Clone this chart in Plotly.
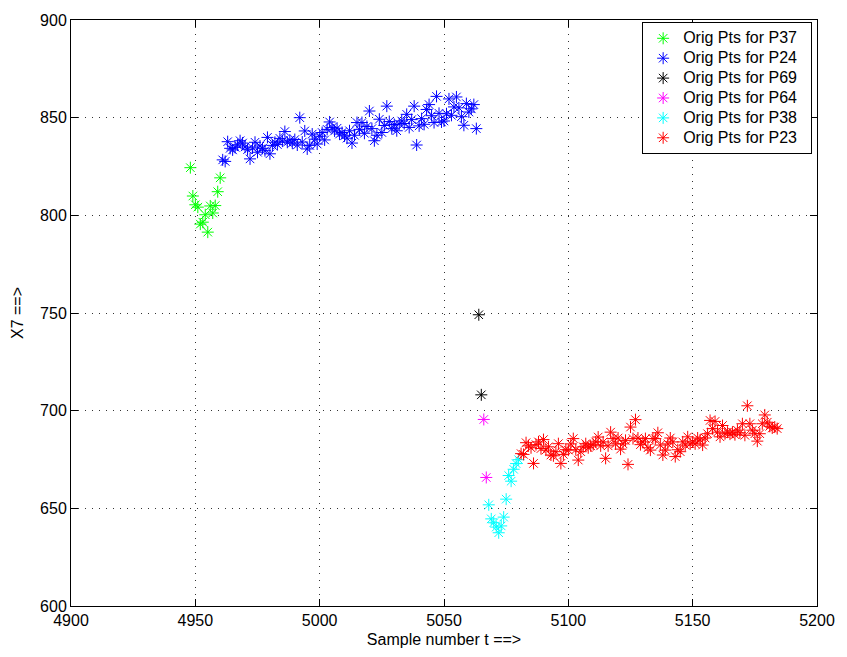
import plotly.graph_objects as go

# Sample ranges (integer sample numbers) for each group of original points
p37_t = list(range(4948, 4961))
p37_x7 = [824.4, 809.9, 805.4, 804.2, 795.5, 796.5, 800.3, 791.4, 804.8, 801.2,
          805.0, 812.1, 819.2]

p24_t = list(range(4961, 5064))
p24_x7 = [828.4, 827.6, 837.7, 834.3, 833.5, 834.8, 836.0, 838.2, 837.0, 835.0,
          833.6, 828.9, 834.5, 837.4, 832.3, 835.5, 834.3, 833.1, 839.9, 831.5,
          835.8, 837.4, 836.2, 839.4, 838.0, 842.9, 837.4, 838.5, 837.0, 838.8,
          836.0, 850.0, 837.5, 843.2, 834.0, 835.8, 841.6, 839.0, 836.5, 840.5,
          842.4, 838.6, 844.0, 847.8, 845.0, 843.2, 844.6, 841.6, 842.4, 840.7,
          839.5, 843.3, 837.0, 841.0, 847.5, 844.0, 847.5, 842.0, 845.5, 853.4,
          844.4, 838.2, 841.0, 849.2, 842.4, 846.0, 855.9, 848.0, 844.4, 846.5,
          843.3, 846.8, 848.3, 847.0, 851.7, 845.0, 849.0, 855.9, 836.0, 845.8,
          849.5, 846.6, 854.2, 856.7, 851.0, 847.5, 860.9, 852.2, 847.8, 848.3,
          852.0, 859.6, 851.2, 855.5, 860.6, 855.0, 850.5, 846.1, 857.2, 852.9,
          854.5, 856.7, 844.4]

p69_t = [5064, 5065]
p69_x7 = [749.1, 708.1]

p64_t = [5066, 5067]
p64_x7 = [695.5, 665.8]

p38_t = list(range(5068, 5081))
p38_x7 = [651.8, 644.6, 642.6, 640.4, 637.5, 641.0, 645.5, 654.7, 666.8, 663.9,
          670.0, 672.9, 674.9]

p23_t = list(range(5081, 5185))
p23_x7 = [678.0, 677.6, 683.6, 682.0, 681.0, 673.0, 682.6, 684.0, 680.6, 685.2,
          679.8, 681.5, 677.3, 676.9, 679.0, 683.1, 673.0, 677.6, 680.0, 679.8,
          683.0, 685.7, 680.0, 674.7, 679.0, 681.5, 683.1, 681.0, 682.0, 682.6,
          684.0, 686.5, 682.0, 684.0, 675.6, 682.0, 689.0, 685.7, 683.0, 686.0,
          680.3, 683.0, 684.8, 672.5, 691.6, 685.7, 695.4, 686.0, 682.6, 684.0,
          685.7, 681.0, 679.8, 685.7, 685.7, 688.7, 682.4, 677.3, 679.8, 683.0,
          686.0, 684.0, 676.5, 680.0, 679.0, 684.0, 682.4, 686.6, 683.0, 684.0,
          683.0, 686.0, 685.0, 682.4, 686.0, 688.2, 695.0, 690.8, 694.5, 689.0,
          686.6, 692.4, 688.2, 689.0, 688.0, 689.0, 687.7, 690.0, 688.7, 693.3,
          687.4, 702.5, 693.3, 690.0, 688.2, 684.4, 688.2, 693.3, 697.8, 694.1,
          692.0, 691.1, 691.6, 690.8]

series = [
    ("Orig Pts for P37", p37_t, p37_x7, "#00ff00"),
    ("Orig Pts for P24", p24_t, p24_x7, "#0000ff"),
    ("Orig Pts for P69", p69_t, p69_x7, "#000000"),
    ("Orig Pts for P64", p64_t, p64_x7, "#ff00ff"),
    ("Orig Pts for P38", p38_t, p38_x7, "#00ffff"),
    ("Orig Pts for P23", p23_t, p23_x7, "#ff0000"),
]

fig = go.Figure()
for name, t, v, col in series:
    fig.add_trace(go.Scatter(
        x=t, y=v, mode="markers",
        # larger label text while keeping compact legend rows
        name="<span style='font-size:16px'>%s&nbsp;&nbsp;</span>" % name,
        marker=dict(symbol="asterisk-open", size=10, color=col,
                    line=dict(color=col, width=1)),
    ))

axis_common = dict(
    showline=True, linecolor="black", linewidth=1, mirror="ticks",
    ticks="inside", ticklen=7, tickcolor="black",
    showgrid=True, gridcolor="#333333", gridwidth=1, griddash="1px,6px",
    zeroline=False, tickfont=dict(size=16, color="black"),
)

fig.update_layout(
    width=847, height=657,
    margin=dict(l=71, r=24, t=14, b=49),
    paper_bgcolor="white", plot_bgcolor="white",
    font=dict(family="Liberation Sans, Arial, sans-serif", size=16, color="black"),
    xaxis=dict(range=[4900, 5200], dtick=50, tick0=4900,
               title=dict(text="Sample number t ==>", standoff=5,
                          font=dict(size=16)),
               **axis_common),
    yaxis=dict(range=[600, 900], dtick=50, tick0=600,
               title=dict(text="X7 ==>", standoff=12, font=dict(size=16)),
               **axis_common),
    legend=dict(x=0.9935, y=0.996, xanchor="right", yanchor="top",
                bgcolor="white", bordercolor="black", borderwidth=1,
                font=dict(size=13), tracegroupgap=0),
    showlegend=True,
)

fig.write_html("out.html")
